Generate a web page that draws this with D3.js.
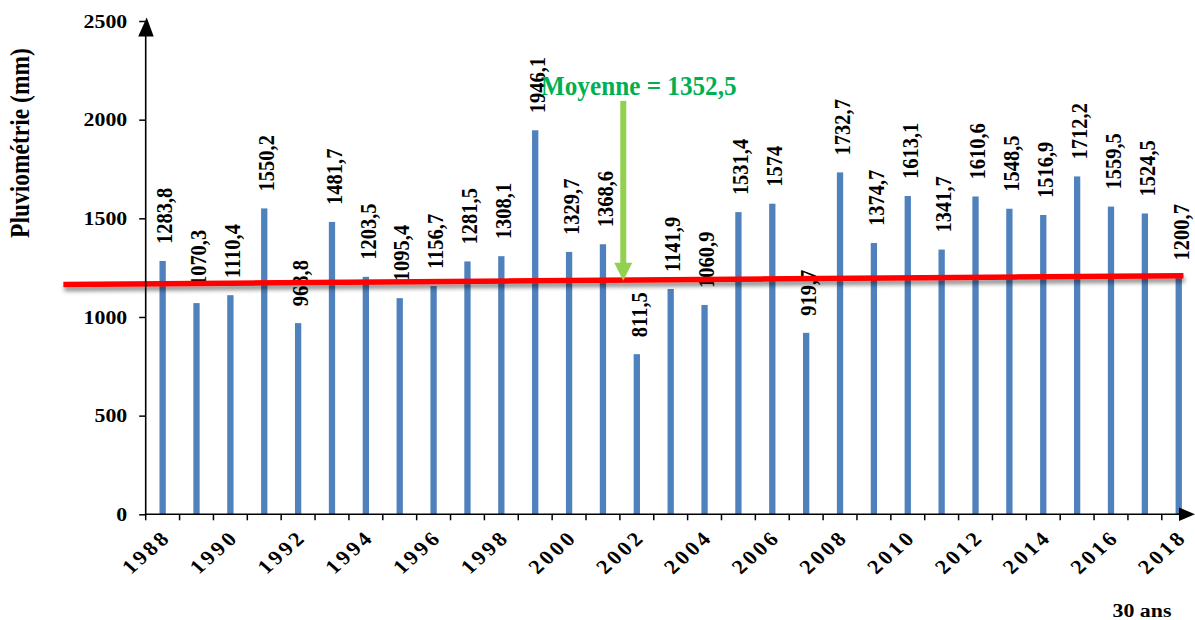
<!DOCTYPE html>
<html><head><meta charset="utf-8">
<script src="https://cdn.jsdelivr.net/npm/d3@7"></script>
<style>
html,body{margin:0;padding:0;background:#fff;}
svg{display:block;}
text{font-family:"Liberation Serif","Times New Roman",serif;font-weight:bold;}
</style></head>
<body>
<svg id="chart" width="1195" height="620"></svg>
<script>
// ---- data ----
const years = d3.range(1988, 2019);
const rainfall = [1283.8,1070.3,1110.4,1550.2,968.8,1481.7,1203.5,1095.4,1156.7,1281.5,1308.1,1946.1,1329.7,1368.6,811.5,1141.9,1060.9,1531.4,1574,919.7,1732.7,1374.7,1613.1,1341.7,1610.6,1548.5,1516.9,1712.2,1559.5,1524.5,1200.7];
const yTicks = [0,500,1000,1500,2000,2500];
const xTickLabels = [1988,1990,1992,1994,1996,1998,2000,2002,2004,2006,2008,2010,2012,2014,2016,2018];
const trendYears = [1985.07, 2018.14];
const trendValues = [1165, 1209];
const meanLabel = "Moyenne = 1352,5";
const arrowYear = 2001.6;
const arrowValues = [2095, 1184];
const yTitle = "Pluviométrie (mm)";
const xTitle = "30 ans";

// ---- layout ----
const svg = d3.select("#chart");
const x0 = 145.7, step = 33.87;
const SX = 1.12; // horizontal stretch of the original picture
const x = d3.scaleBand().domain(years).range([x0, x0 + step*years.length]).paddingInner(0).paddingOuter(0);
const xc = d => x(d) + x.bandwidth()/2;
const xLin = d3.scaleLinear().domain([1988, 2018]).range([xc(1988), xc(2018)]);
const y = d3.scaleLinear().domain([0, 2500]).range([514.3, 21]);

const defs = svg.append("defs");
const f = defs.append("filter").attr("id","sh").attr("x","-5%").attr("y","-200%").attr("width","110%").attr("height","500%");
f.append("feGaussianBlur").attr("in","SourceAlpha").attr("stdDeviation",2.2).attr("result","b");
f.append("feOffset").attr("in","b").attr("dx",1).attr("dy",3.5).attr("result","o");
f.append("feComponentTransfer").attr("in","o").attr("result","o2").append("feFuncA").attr("type","linear").attr("slope",0.45);
const fm = f.append("feMerge"); fm.append("feMergeNode").attr("in","o2"); fm.append("feMergeNode").attr("in","SourceGraphic");

// bars
const barW = 6.3;
svg.append("g").selectAll("rect").data(rainfall).join("rect")
  .attr("x", (d,i) => xc(years[i]) - barW/2)
  .attr("y", d => y(d))
  .attr("width", barW)
  .attr("height", d => y(0) - y(d))
  .attr("fill", "#4F81BD");

// value labels
const fmt = v => String(v).replace(".", ",");
svg.append("g").selectAll("text").data(rainfall).join("text")
  .attr("transform", (d,i) => `translate(${xc(years[i]) + 1.5},${y(d) - 17}) scale(${SX},1) rotate(-90)`)
  .attr("dy", "0.36em")
  .attr("text-anchor", "start")
  .attr("font-size", 20.5)
  .attr("fill", "#000")
  .text(fmt);

// trend line
const tl = d3.line().x(d => xLin(d[0])).y(d => y(d[1]));
svg.append("path")
  .datum(trendYears.map((t,i) => [t, trendValues[i]]))
  .attr("d", tl)
  .attr("stroke", "#FF0000").attr("stroke-width", 5.5).attr("fill", "none")
  .attr("filter", "url(#sh)");

// y axis
const yAxis = d3.axisLeft(y).tickValues(yTicks).tickSize(6.5).tickPadding(12).tickFormat(d3.format("d"));
const gy = svg.append("g").attr("transform", `translate(${x0},0)`).call(yAxis);
gy.select(".domain").remove();
gy.selectAll(".tick line").attr("stroke", "#000").attr("stroke-width", 1.5);
gy.selectAll(".tick text").attr("font-size", 19.5).attr("fill", "#000")
  .attr("font-family", '"Liberation Serif",serif').attr("font-weight", "bold")
  .each(function(){ const t = d3.select(this); const xx = +t.attr("x"); t.attr("x", null)
     .attr("transform", `translate(${xx},0) scale(${SX},1)`); });
svg.append("line").attr("x1", x0).attr("x2", x0).attr("y1", y(0) + 1).attr("y2", 34)
  .attr("stroke", "#000").attr("stroke-width", 1.6);
svg.append("path").attr("d", d3.line()([[x0-7.5, 36.5],[x0+1, 17.5],[x0+8, 36.5]]) + "Z").attr("fill", "#000");

// x axis
const xAxis = d3.axisBottom(x).tickValues([]).tickSize(0);
const gx = svg.append("g").attr("transform", `translate(0,${y(0)})`).call(xAxis);
gx.select(".domain").remove();
svg.append("line").attr("x1", x0).attr("x2", 1182).attr("y1", y(0)).attr("y2", y(0))
  .attr("stroke", "#000").attr("stroke-width", 1.6);
svg.append("path").attr("d", d3.line()([[1179, y(0)-6.8],[1195, y(0)],[1179, y(0)+6.8]]) + "Z").attr("fill", "#000");
// tick marks at band boundaries
svg.append("g").selectAll("line").data(years).join("line")
  .attr("x1", d => x(d)).attr("x2", d => x(d))
  .attr("y1", y(0)).attr("y2", y(0) + 6)
  .attr("stroke", "#000").attr("stroke-width", 1.5);
// tick labels
svg.append("g").selectAll("text").data(xTickLabels).join("text")
  .attr("transform", d => `translate(${xc(d) + 4},${y(0) + 19}) scale(${SX},1) rotate(-45)`)
  .attr("text-anchor", "end")
  .attr("dy", "0.35em")
  .attr("font-size", 20)
  .attr("letter-spacing", 3)
  .text(d => d);

// axis titles
svg.append("text")
  .attr("transform", `translate(29,143) scale(${SX},1) rotate(-90)`)
  .attr("text-anchor", "middle")
  .attr("font-size", 23.5)
  .text(yTitle);
svg.append("text")
  .attr("transform", `translate(1142,617) scale(${SX},1)`)
  .attr("text-anchor", "middle")
  .attr("font-size", 19.5)
  .text(xTitle);

// mean annotation
const ax = xLin(arrowYear);
svg.append("rect").attr("x", ax - 3).attr("width", 6)
  .attr("y", y(arrowValues[0])).attr("height", (y(arrowValues[1]) - 17) - y(arrowValues[0]))
  .attr("fill", "#92D050");
svg.append("path")
  .attr("d", d3.line()([[ax - 9, y(arrowValues[1]) - 18],[ax + 9, y(arrowValues[1]) - 18],[ax, y(arrowValues[1])]]) + "Z")
  .attr("fill", "#92D050");
svg.append("text")
  .attr("transform", `translate(541,94.5) scale(1.05,1.1)`)
  .attr("font-size", 24)
  .attr("fill", "#00B050")
  .text(meanLabel);
</script>
</body></html>
